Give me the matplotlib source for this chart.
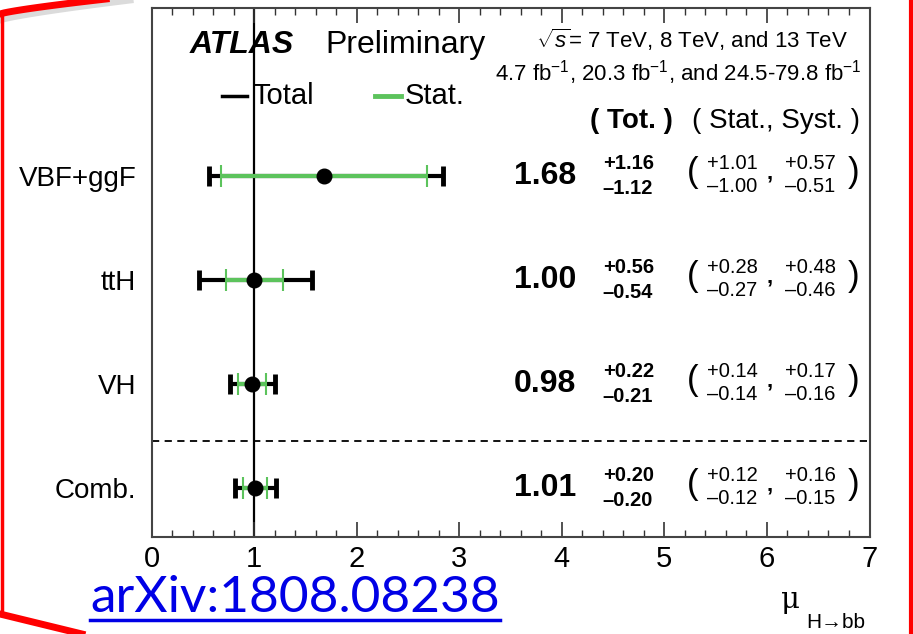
import matplotlib
matplotlib.use('Agg')
import matplotlib.pyplot as plt
from matplotlib.lines import Line2D
from matplotlib.ticker import MultipleLocator
import numpy as np

plt.rcParams['font.family'] = ['Liberation Sans', 'DejaVu Sans']
plt.rcParams['mathtext.fontset'] = 'custom'
plt.rcParams['mathtext.rm'] = 'Liberation Sans'
plt.rcParams['mathtext.it'] = 'Liberation Sans:italic'
plt.rcParams['mathtext.bf'] = 'Liberation Sans:bold'

channels = ['VBF+ggF', 'ttH', 'VH', 'Comb.']
mu = [1.68, 1.00, 0.98, 1.01]
tot_up = [1.16, 0.56, 0.22, 0.20]
tot_dn = [1.12, 0.54, 0.21, 0.20]
stat_up = [1.01, 0.28, 0.14, 0.12]
stat_dn = [1.00, 0.27, 0.14, 0.12]
syst_up = [0.57, 0.48, 0.17, 0.16]
syst_dn = [0.51, 0.46, 0.16, 0.15]
ypos = [3, 2, 1, 0]

W, H = 913, 634
fig = plt.figure(figsize=(W / 100, H / 100), dpi=100)

def fx(x):
    return x / W

def fy(y):
    return 1 - y / H

ax = fig.add_axes([fx(151.5), fy(537), (869.5 - 151.5) / W, (537 - 8) / H])
ax.set_xlim(0, 7)
ax.set_ylim(-0.47, 4.615)

green = '#5cc35c'
ax.axvline(1, color='black', lw=1.6, zorder=1)
ax.axhline(0.45, color='black', lw=1.3, ls=(0, (4, 3)), zorder=1)

for i in range(len(channels)):
    y = ypos[i]
    ax.errorbar(mu[i], y, xerr=[[tot_dn[i]], [tot_up[i]]], fmt='none',
                ecolor='black', elinewidth=3, capsize=7, capthick=3.5, zorder=2)
    ax.errorbar(mu[i], y, xerr=[[stat_dn[i]], [stat_up[i]]], fmt='none',
                ecolor=green, elinewidth=3, capsize=8, capthick=1.5, zorder=3)
    ax.plot(mu[i], y, 'o', color='black', ms=10.5, zorder=4)

    # numbers on the right
    ax.text(3.84, y - 0.075, f'{mu[i]:.2f}', ha='center', va='baseline',
            fontsize=23, fontweight='bold')
    ax.text(4.40, y + 0.07, f'+{tot_up[i]:.2f}', ha='left', va='baseline',
            fontsize=14.5, fontweight='bold')
    ax.text(4.40, y - 0.17, f'\u2013{tot_dn[i]:.2f}', ha='left', va='baseline',
            fontsize=14.5, fontweight='bold')
    ax.text(5.28, y + 0.035, '(', ha='center', va='center', fontsize=25)
    ax.text(5.42, y + 0.07, f'+{stat_up[i]:.2f}', ha='left', va='baseline', fontsize=14.5)
    ax.text(5.42, y - 0.155, f'\u2013{stat_dn[i]:.2f}', ha='left', va='baseline', fontsize=14.5)
    ax.text(6.03, y - 0.02, ',', ha='center', va='baseline', fontsize=16, fontweight='bold')
    ax.text(6.18, y + 0.07, f'+{syst_up[i]:.2f}', ha='left', va='baseline', fontsize=14.5)
    ax.text(6.18, y - 0.155, f'\u2013{syst_dn[i]:.2f}', ha='left', va='baseline', fontsize=14.5)
    ax.text(6.84, y + 0.035, ')', ha='center', va='center', fontsize=25)

ax.set_yticks(ypos)
ax.set_yticklabels(channels, fontsize=20)
ax.tick_params(axis='y', length=0, pad=11)

ax.xaxis.set_major_locator(MultipleLocator(1))
ax.xaxis.set_minor_locator(MultipleLocator(0.2))
ax.tick_params(axis='x', which='both', direction='in', top=True, bottom=True,
               labelsize=21, pad=6, color='#333333')
ax.tick_params(axis='x', which='major', length=11, width=1.2)
ax.tick_params(axis='x', which='minor', length=5, width=1.0)
for s in ax.spines.values():
    s.set_color('#444444')
    s.set_linewidth(1.5)

# header texts
fig.text(fx(190), fy(45), 'ATLAS', fontsize=23, fontweight='bold', style='italic',
         va='center', ha='left')
fig.text(fx(325), fy(45), 'Preliminary', fontsize=23, va='center', ha='left')
fig.text(fx(848), fy(40), r'$\sqrt{s}$= 7 TeV, 8 TeV, and 13 TeV', fontsize=16,
         va='center', ha='right')
fig.text(fx(862), fy(73), r'4.7 fb$^{\mathregular{-1}}$, 20.3 fb$^{\mathregular{-1}}$, and 24.5-79.8 fb$^{\mathregular{-1}}$',
         fontsize=16, va='center', ha='right')
fig.text(fx(590), fy(121), '( Tot. )', fontsize=20, fontweight='bold', va='center', ha='left')
fig.text(fx(860), fy(121), '( Stat., Syst. )', fontsize=20, va='center', ha='right')

# legend
fig.add_artist(Line2D([fx(222), fx(247)], [fy(96), fy(96)], color='black', lw=2.5))
fig.text(fx(252), fy(96), 'Total', fontsize=21, va='center', ha='left')
fig.add_artist(Line2D([fx(375), fx(401)], [fy(96), fy(96)], color=green, lw=3.5))
fig.text(fx(405), fy(96), 'Stat.', fontsize=21, va='center', ha='left')

# x axis title
fig.text(fx(790), fy(600), '\u03bc', fontsize=21, va='center', ha='center',
         family=['DejaVu Serif'])
fig.text(fx(836), fy(622), 'H\u2192bb', fontsize=15, va='center', ha='center',
         family=['Liberation Sans', 'DejaVu Sans'])

# slide decoration
fig.text(fx(90), fy(612), 'arXiv:1808.08238', fontsize=37, color='#0000e6',
         family=['Lato', 'Open Sans'], va='baseline', ha='left')
fig.add_artist(Line2D([fx(90), fx(500)], [fy(620), fy(620)], color='#0000e6', lw=2.5))

red = '#ff0000'
t = np.linspace(0, 1, 30)
fig.add_artist(Line2D(fx(0 + 130 * t), fy(20 - 20 * t ** 0.8), color='#cccccc', lw=5, alpha=0.7))
fig.add_artist(Line2D(fx(0 + 115 * t), fy(14 - 16 * t ** 0.8), color=red, lw=5))
fig.add_artist(Line2D([fx(2), fx(2)], [fy(16), fy(615)], color=red, lw=2.5))
fig.add_artist(Line2D([fx(0), fx(82)], [fy(614), fy(634)], color=red, lw=5))
fig.add_artist(Line2D([fx(911), fx(911)], [fy(0), fy(634)], color=red, lw=3))

fig.savefig('out.png', dpi=100)
